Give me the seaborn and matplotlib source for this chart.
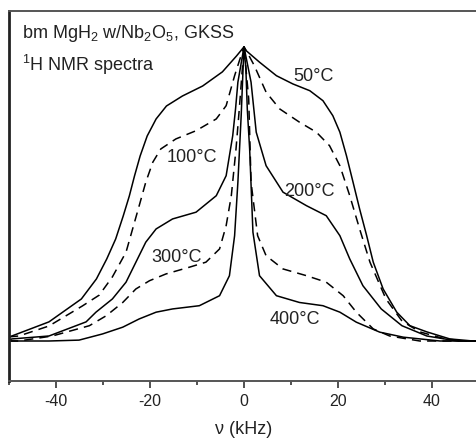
import matplotlib
matplotlib.use("Agg")
import matplotlib.pyplot as plt
from matplotlib.ticker import MultipleLocator
import pandas as pd
import seaborn as sns

# 1H NMR line shapes of ball-milled MgH2 with Nb2O5 at several temperatures
# frequency offset (kHz) and normalised intensity for each temperature

freq_50 = [-50.0, -49.4, -41.5, -34.6, -31.4, -29.2, -27.3, -25.7, -24.4, -23.3,
           -22.1, -20.6, -18.7, -16.5, -13.1, -8.8, -4.6, -1.6, 0.0,
           0.47, 3.3, 6.9, 10.4, 14.0, 16.8, 18.9, 20.4, 21.8, 23.2,
           24.6, 26.1, 27.5, 29.6, 32.5, 35.3, 38.9, 43.8, 48.7, 50.0]
int_50 = [0.014, 0.017, 0.065, 0.143, 0.211, 0.279, 0.347, 0.425, 0.493, 0.561,
          0.629, 0.697, 0.755, 0.799, 0.833, 0.867, 0.915, 0.969, 1.000,
          0.987, 0.948, 0.902, 0.874, 0.851, 0.817, 0.766, 0.710, 0.630, 0.540,
          0.449, 0.358, 0.268, 0.177, 0.098, 0.052, 0.031, 0.007, 0.000, 0.000]

freq_100 = [-50.0, -47.9, -41.5, -34.4, -30.8, -28.0, -25.1, -23.7, -22.3, -20.9,
            -19.4, -17.7, -14.5, -10.2, -5.9, -3.8, -2.0, -1.0, 0.0,
            1.2, 2.2, 4.7, 7.6, 11.8, 15.4, 18.2, 20.4, 22.5, 24.6,
            26.8, 30.2, 33.6, 37.4, 42.8, 47.4, 50.0]
int_100 = [0.014, 0.017, 0.051, 0.119, 0.156, 0.218, 0.302, 0.381, 0.460, 0.540,
           0.608, 0.653, 0.687, 0.715, 0.755, 0.800, 0.902, 0.952, 1.000,
           0.966, 0.936, 0.846, 0.789, 0.744, 0.710, 0.664, 0.596, 0.494, 0.381,
           0.268, 0.143, 0.068, 0.031, 0.007, 0.000, 0.000]

freq_200 = [-50.0, -49.4, -41.5, -33.6, -31.5, -28.0, -25.1, -23.0, -20.9, -18.7,
            -15.2, -10.2, -5.9, -3.8, -2.4, -1.8, -1.3, 0.0,
            1.5, 2.6, 4.7, 8.3, 13.3, 17.5, 20.4, 22.5, 25.3, 29.2,
            33.6, 38.9, 45.3, 50.0]
int_200 = [0.003, 0.007, 0.017, 0.065, 0.098, 0.143, 0.200, 0.268, 0.336, 0.381,
           0.415, 0.438, 0.494, 0.562, 0.698, 0.789, 0.880, 1.000,
           0.880, 0.710, 0.596, 0.506, 0.460, 0.426, 0.358, 0.279, 0.188, 0.109,
           0.052, 0.017, 0.000, 0.000]

freq_300 = [-50.0, -47.9, -40.8, -32.9, -29.3, -25.8, -23.0, -20.1, -16.6, -11.6,
            -8.1, -5.2, -3.8, -2.7, -1.7, -1.0, 0.0,
            1.0, 1.5, 2.9, 4.7, 8.3, 13.3, 17.5, 21.1, 23.9, 27.5,
            31.0, 37.4, 50.0]
int_300 = [0.000, 0.000, 0.017, 0.052, 0.086, 0.131, 0.177, 0.205, 0.228, 0.251,
           0.268, 0.313, 0.392, 0.494, 0.653, 0.789, 1.000,
           0.823, 0.540, 0.358, 0.290, 0.245, 0.222, 0.200, 0.154, 0.098, 0.041,
           0.017, 0.000, 0.000]

freq_400 = [-50.0, -41.5, -35.1, -30.1, -25.8, -22.3, -18.7, -15.2, -9.5, -5.2,
            -3.1, -2.0, -1.3, -0.6, -0.2, 0.0,
            0.4, 0.7, 1.2, 1.9, 3.3, 6.9, 11.8, 16.8, 20.4, 23.9,
            28.9, 33.9, 41.7, 50.0]
int_400 = [0.000, 0.000, 0.003, 0.024, 0.047, 0.075, 0.098, 0.109, 0.120, 0.154,
           0.222, 0.358, 0.540, 0.766, 0.925, 1.000,
           0.925, 0.789, 0.653, 0.370, 0.222, 0.154, 0.131, 0.120, 0.098, 0.064,
           0.030, 0.013, 0.000, 0.000]

temp_labels = ["50°C", "100°C", "200°C", "300°C", "400°C"]
label_pos_x = [10.4, -16.5, 8.6, -19.7, 5.4]
label_pos_y = [0.903, 0.629, 0.510, 0.286, 0.075]

title_line1 = r"bm MgH$_2$ w/Nb$_2$O$_5$, GKSS"
title_line2 = r"$^1$H NMR spectra"
x_label = "ν (kHz)"

sns.set_style("ticks")
plt.rcParams["font.family"] = ["Liberation Sans", "DejaVu Sans"]
plt.rcParams["mathtext.fontset"] = "custom"
plt.rcParams["mathtext.rm"] = "Liberation Sans"
plt.rcParams["mathtext.it"] = "Liberation Sans"
plt.rcParams["axes.unicode_minus"] = False

frames = []
for name, fx, fy, dashed in [
    ("50", freq_50, int_50, False),
    ("100", freq_100, int_100, True),
    ("200", freq_200, int_200, False),
    ("300", freq_300, int_300, True),
    ("400", freq_400, int_400, False),
]:
    frames.append(pd.DataFrame({"freq": fx, "intensity": fy, "temp": name,
                                "kind": "dashed" if dashed else "solid"}))
df = pd.concat(frames, ignore_index=True)

fig = plt.figure(figsize=(4.77, 4.39), dpi=100)
ax = fig.add_axes([9 / 477, 1 - 382 / 439, 470 / 477, 370 / 439])

sns.lineplot(data=df, x="freq", y="intensity", units="temp", estimator=None,
             style="kind", style_order=["solid", "dashed"],
             dashes={"solid": "", "dashed": (6, 4)},
             color="black", linewidth=1.1, sort=False, legend=False, ax=ax)
for line in ax.get_lines():
    line.set_solid_joinstyle("round")
    line.set_dash_joinstyle("round")

ax.set_xlim(-50, 50)
ax.set_ylim(-0.136, 1.122)
ax.xaxis.set_major_locator(MultipleLocator(20))
ax.xaxis.set_minor_locator(MultipleLocator(10))
ax.tick_params(axis="x", which="major", direction="out", length=5, width=1.2,
               color="#333333", labelsize=11.5, pad=4, labelcolor="#222222")
ax.tick_params(axis="x", which="minor", direction="out", length=3, width=1.2,
               color="#333333")
ax.set_yticks([])
ax.set_ylabel("")
ax.set_xlabel(x_label, fontsize=13, color="#222222", labelpad=8)

for side in ["top", "bottom", "right"]:
    ax.spines[side].set_color("#555555")
    ax.spines[side].set_linewidth(1.4)
ax.spines["left"].set_color("#222222")
ax.spines["left"].set_linewidth(2.0)

ax.text(-47.3, 1.048, title_line1, fontsize=13, va="center", ha="left",
        color="#222222")
ax.text(-47.3, 0.943, title_line2, fontsize=13, va="center", ha="left",
        color="#222222")

for lab, lx, ly in zip(temp_labels, label_pos_x, label_pos_y):
    ax.text(lx, ly, lab, fontsize=13, va="center", ha="left", color="#222222")

fig.savefig("out.png", dpi=100)
